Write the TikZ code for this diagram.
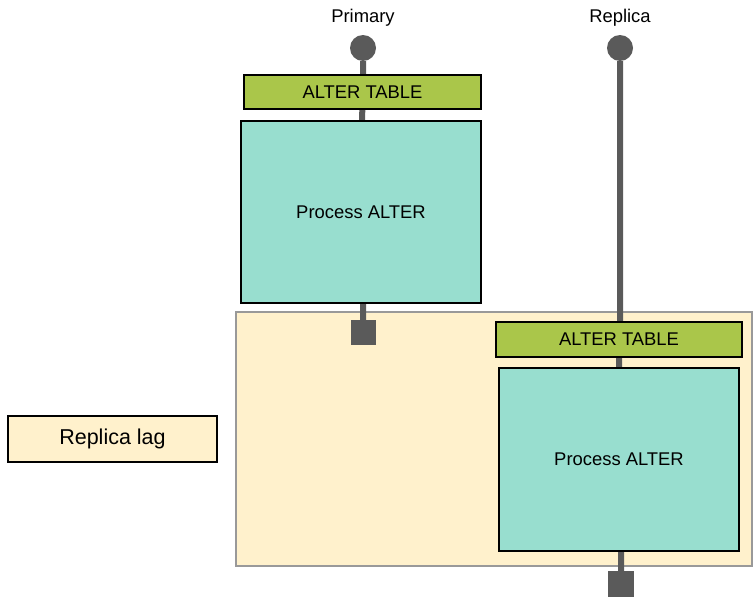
\documentclass[tikz,border=0pt]{standalone}
\usepackage{fontspec}
\setmainfont{Liberation Sans}
\usetikzlibrary{positioning}

\definecolor{altergreen}{HTML}{AAC64A}
\definecolor{proccyan}{HTML}{98DECF}
\definecolor{lagyellow}{HTML}{FFF1CC}
\definecolor{wiregray}{HTML}{5A5A5A}

\pgfdeclarelayer{back}
\pgfdeclarelayer{wires}
\pgfsetlayers{back,wires,main}

\begin{document}
\begin{tikzpicture}[x=1pt, y=-1pt]
	\tikzset{every node/.style={font=\fontsize{18.4}{22}\selectfont, inner sep=0pt},
		altbox/.style={draw=black, line width=1.3pt, fill=altergreen, minimum height=34pt},
		procbox/.style={draw=black, line width=1.3pt, fill=proccyan, minimum width=240pt, minimum height=182pt},
		dot/.style={circle, fill=wiregray, minimum size=26pt},
		stop/.style={rectangle, fill=wiregray, minimum size=25pt},
		wire/.style={draw=wiregray, line width=6pt}}

	\useasboundingbox (0,0) rectangle (753,597);

	% replica lag
	\begin{pgfonlayer}{back}
		\node[draw=gray!80, line width=1.5pt, fill=lagyellow, minimum width=516pt, minimum height=254pt] (lag) at (494,439) {};
	\end{pgfonlayer}
	\node[draw=black, line width=1.3pt, fill=lagyellow, minimum width=209pt, minimum height=46pt,
		font=\fontsize{21.5}{24}\selectfont] (laglabel) at (112.5,439) {Replica lag};

	% primary
	\node (primary) at (363,18) {Primary};
	\node[dot] (pdot) at (363,48) {};
	\node[altbox, minimum width=237pt] (palter) at (362.5,92) {ALTER TABLE};
	\node[procbox] (pproc) at (361,212) {Process ALTER};
	\node[stop] (pend) at (363,332.5) {};

	% replica
	\node (replica) at (620,18) {Replica};
	\node[dot] (rdot) at (620,48) {};
	\node[altbox, minimum width=246pt, minimum height=35pt] (ralter) at (619,339.5) {ALTER TABLE};
	\node[procbox, minimum height=183pt] (rproc) at (619,459.5) {Process ALTER};
	\node[stop, minimum size=26pt] (rend) at (621,584) {};

	\begin{pgfonlayer}{wires}
		\path[wire] (pdot) -- (palter.north -| pdot) (palter) -- (pproc) (pproc.south -| pend) -- (pend)
			(rdot) -- (ralter.north -| rdot) (ralter) -- (rproc) (rproc.south -| rend) -- (rend);
	\end{pgfonlayer}
\end{tikzpicture}
\end{document}
